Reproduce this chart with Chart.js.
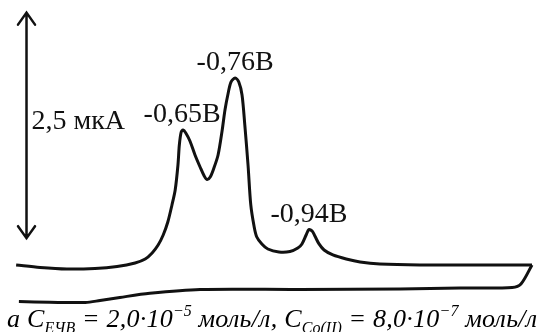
<!DOCTYPE html>
<html><head><meta charset="utf-8">
<script src="https://cdn.jsdelivr.net/npm/chart.js@4/dist/chart.umd.min.js"></script>
<style>
html,body{margin:0;padding:0;background:#fff;}
#wrap{position:relative;width:544px;height:332px;overflow:hidden;}
#c{position:absolute;left:0;top:0;}
#cap{position:absolute;left:7px;top:304px;white-space:nowrap;font-family:'Liberation Serif','Times New Roman',serif;font-style:italic;font-size:26px;color:#000;line-height:30px;letter-spacing:0.25px;}
#cap sub{font-size:16px;vertical-align:-6px;line-height:0;letter-spacing:0;}
#cap sup{font-size:16px;vertical-align:11px;line-height:0;letter-spacing:0;}
</style></head>
<body><div id="wrap"><canvas id="c" width="544" height="332"></canvas>
<div id="cap">a C<sub>ЕЧВ</sub> = 2,0·10<sup>−5</sup> моль/л, C<sub>Co(II)</sub> = 8,0·10<sup>−7</sup> моль/л</div></div>
<script>
// Forward (cathodic) scan: potential E (V) and current I (µA)
const forwardE = [-0.295,-0.347,-0.405,-0.466,-0.514,-0.553,-0.575,-0.590,-0.603,-0.614,-0.624,-0.633,-0.640,-0.646,-0.649,-0.653,-0.657,-0.663,-0.672,-0.683,-0.694,-0.703,-0.709,-0.716,-0.724,-0.733,-0.742,-0.748,-0.755,-0.761,-0.770,-0.778,-0.785,-0.791,-0.798,-0.804,-0.811,-0.817,-0.828,-0.841,-0.865,-0.889,-0.906,-0.915,-0.924,-0.930,-0.937,-0.943,-0.952,-0.963,-0.982,-1.011,-1.041,-1.084,-1.171,-1.301,-1.414];
const forwardI = [0.383,0.355,0.338,0.344,0.366,0.405,0.449,0.516,0.604,0.715,0.859,1.048,1.214,1.491,1.713,1.857,1.879,1.846,1.757,1.602,1.469,1.369,1.330,1.358,1.458,1.602,1.879,2.101,2.289,2.411,2.455,2.411,2.267,1.935,1.491,1.048,0.815,0.693,0.616,0.560,0.527,0.532,0.571,0.616,0.715,0.776,0.760,0.704,0.616,0.549,0.494,0.449,0.416,0.394,0.383,0.383,0.383];
// Reverse scan
const reverseE = [-1.414,-1.390,-1.371,-1.258,-1.128,-0.911,-0.694,-0.585,-0.520,-0.477,-0.445,-0.368,-0.301];
const reverseI = [0.383,0.172,0.133,0.128,0.117,0.111,0.111,0.069,0.023,-0.011,-0.033,-0.030,-0.022];
// Peak labels
const peakLabels = ['-0,65В','-0,76В','-0,94В'];
const peakE = [-0.655,-0.770,-0.930];
const peakI = [1.879,2.455,0.776];
// Current scale bar
const scaleBarE = -0.3175;
const scaleBarFrom = 0.68;
const scaleBarSize = 2.5;
const scaleBarLabel = '2,5 мкА';

const toPts = (xs, ys) => xs.map((x, i) => ({x, y: ys[i]}));
const serif = "'Liberation Serif','Times New Roman',serif";

const annot = {
  id: 'annot',
  afterDatasetsDraw(chart) {
    const {ctx, scales: {x, y}} = chart;
    ctx.save();
    ctx.fillStyle = '#111';
    ctx.font = '28px ' + serif;
    ctx.textAlign = 'center';
    ctx.textBaseline = 'alphabetic';
    peakLabels.forEach((t, i) => {
      ctx.fillText(t, x.getPixelForValue(peakE[i]), y.getPixelForValue(peakI[i]) - 8);
    });
    // scale bar arrow
    const ax = x.getPixelForValue(scaleBarE);
    const yb = y.getPixelForValue(scaleBarFrom);
    const yt = y.getPixelForValue(scaleBarFrom + scaleBarSize);
    ctx.strokeStyle = '#111';
    ctx.lineWidth = 2.5;
    ctx.lineCap = 'round';
    ctx.beginPath();
    ctx.moveTo(ax, yt); ctx.lineTo(ax, yb);
    ctx.moveTo(ax - 8.5, yt + 12); ctx.lineTo(ax, yt); ctx.lineTo(ax + 8.5, yt + 12);
    ctx.moveTo(ax - 8.5, yb - 12); ctx.lineTo(ax, yb); ctx.lineTo(ax + 8.5, yb - 12);
    ctx.stroke();
    ctx.textAlign = 'left';
    ctx.font = '28px ' + serif;
    ctx.fillText(scaleBarLabel, ax + 5, (yt + yb) / 2 + 4);
    ctx.restore();
  }
};

new Chart(document.getElementById('c'), {
  type: 'scatter',
  data: {
    datasets: [
      {data: toPts(forwardE, forwardI), showLine: true, borderColor: '#111', borderWidth: 3, pointRadius: 0, tension: 0.3, fill: false},
      {data: toPts(reverseE, reverseI), showLine: true, borderColor: '#111', borderWidth: 3, pointRadius: 0, tension: 0.3, fill: false}
    ]
  },
  options: {
    responsive: false,
    animation: false,
    layout: {padding: 0},
    plugins: {legend: {display: false}, tooltip: {enabled: false}},
    scales: {
      x: {type: 'linear', reverse: true, min: -1.44, max: -0.26, display: false},
      y: {type: 'linear', min: -0.36, max: 3.32, display: false}
    }
  },
  plugins: [annot]
});
</script></body></html>
